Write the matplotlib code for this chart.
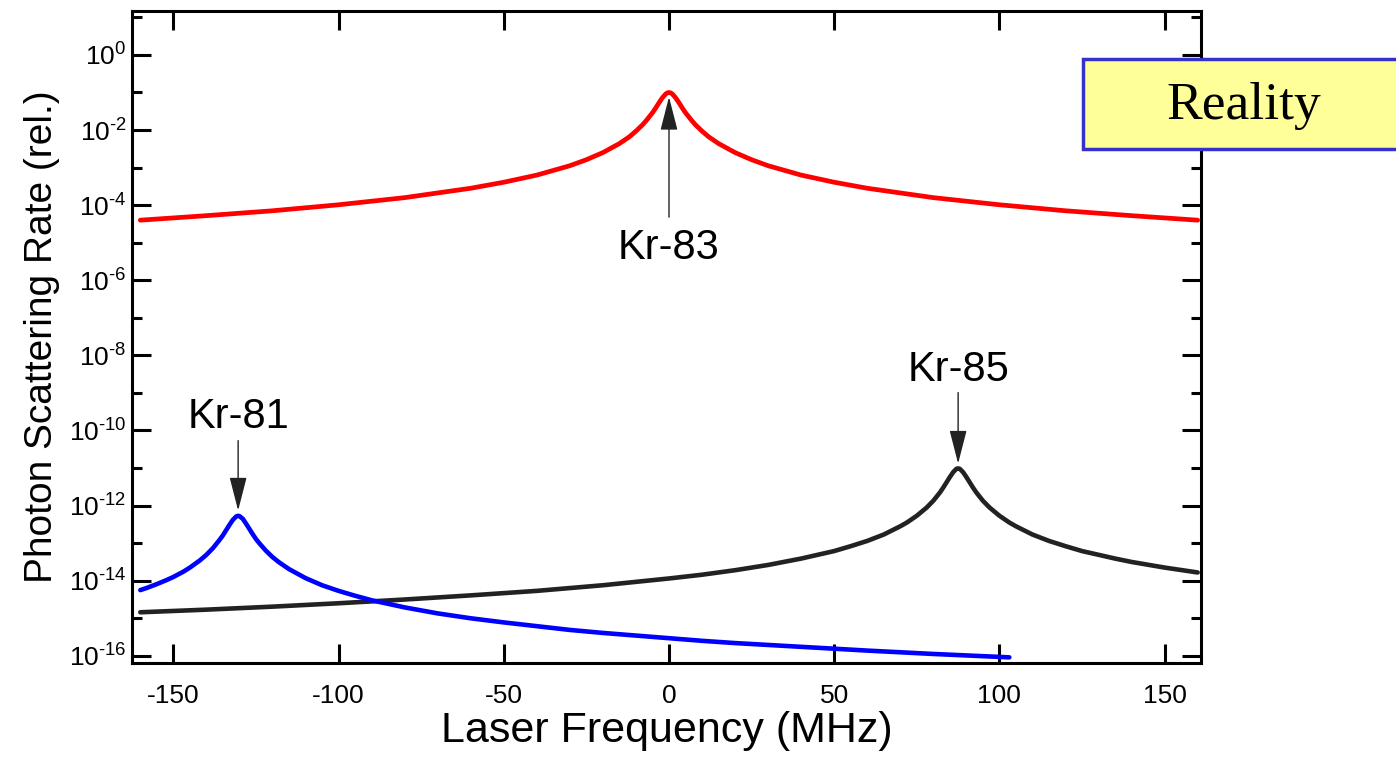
import matplotlib
matplotlib.use("Agg")
import matplotlib.pyplot as plt
import numpy as np
from matplotlib.ticker import FixedLocator, FuncFormatter, NullFormatter
from matplotlib.patches import Rectangle

plt.rcParams['font.family'] = ['Liberation Sans', 'DejaVu Sans']
plt.rcParams['mathtext.default'] = 'regular'
plt.rcParams['mathtext.fontset'] = 'custom'
plt.rcParams['mathtext.rm'] = 'Liberation Sans'
plt.rcParams['mathtext.it'] = 'Liberation Sans'

# ---- data (log10 of rate) ----
kr83_x = [-160, -140, -120, -100, -80, -60, -50, -40, -30, -25, -20, -15, -12, -10, -8, -7, -6, -5,
          -4, -3, -2, -1.5, -1, -0.5, 0,
          0.5, 1, 1.5, 2, 3, 4, 5, 6, 7, 8, 10, 12, 15, 20, 25, 30, 40, 50, 60, 80, 100, 120, 140, 160]
kr83_log = [-4.40, -4.28, -4.15, -3.99, -3.80, -3.55, -3.39, -3.20, -2.95, -2.79, -2.60, -2.36, -2.18,
            -2.03, -1.86, -1.76, -1.65, -1.54, -1.41, -1.27, -1.14, -1.09, -1.04, -1.01, -1.00,
            -1.01, -1.04, -1.09, -1.14, -1.27, -1.41, -1.54, -1.65, -1.76, -1.86, -2.03, -2.18, -2.36,
            -2.60, -2.79, -2.95, -3.20, -3.39, -3.55, -3.80, -3.99, -4.15, -4.28, -4.40]

kr81_x = [-160, -158, -155, -152, -150, -147, -145, -142, -140, -138, -137, -136, -135, -134, -133,
          -132, -131, -130.4, -130, -129, -128, -127, -126, -125, -124, -122, -120, -118, -115, -110,
          -105, -100, -95, -90, -80, -70, -60, -50, -40, -30, -20, -10, 0, 10, 20, 40, 60, 80, 103]
kr81_log = [-14.25, -14.19, -14.09, -13.98, -13.90, -13.76, -13.65, -13.46, -13.31, -13.13, -13.02,
            -12.91, -12.79, -12.65, -12.51, -12.38, -12.29, -12.27, -12.28, -12.35, -12.48, -12.62,
            -12.76, -12.89, -13.00, -13.20, -13.37, -13.51, -13.69, -13.93, -14.12, -14.27, -14.40,
            -14.52, -14.71, -14.87, -15.00, -15.11, -15.21, -15.31, -15.39, -15.46, -15.53, -15.60,
            -15.66, -15.76, -15.86, -15.95, -16.04]

kr85_x = [-160, -140, -120, -100, -80, -60, -40, -20, -10, 0, 10, 20, 30, 40, 45, 50, 55, 60, 65, 70,
          72, 75, 78, 80, 82, 83, 84, 85, 86, 87, 87.5, 88, 89, 90, 91, 92, 93, 95, 97, 100, 103, 105,
          110, 115, 120, 125, 130, 135, 140, 150, 160]
kr85_log = [-14.84, -14.77, -14.69, -14.60, -14.50, -14.39, -14.27, -14.12, -14.03, -13.94, -13.84,
            -13.72, -13.58, -13.41, -13.31, -13.21, -13.08, -12.94, -12.77, -12.55, -12.45, -12.27,
            -12.05, -11.87, -11.65, -11.52, -11.38, -11.24, -11.11, -11.02, -11.01, -11.02, -11.11,
            -11.24, -11.38, -11.52, -11.65, -11.87, -12.05, -12.27, -12.45, -12.55, -12.77, -12.94,
            -13.08, -13.21, -13.31, -13.41, -13.50, -13.65, -13.78]

x_ticks = [-150, -100, -50, 0, 50, 100, 150]
y_major_exp = [0, -2, -4, -6, -8, -10, -12, -14, -16]
y_minor_exp = [1, -1, -3, -5, -7, -9, -11, -13, -15]

labels = ["Kr-83", "Kr-81", "Kr-85"]
label_pos = [(0, -5.15), (-130.4, -9.63), (87.5, -8.40)]
arrow_tail = [(0, -4.32), (-130.4, -10.27), (87.5, -8.99)]
arrow_tip = [(0, -1.12), (-130.4, -12.13), (87.5, -10.88)]

# ---- figure ----
fig = plt.figure(figsize=(13.96, 7.57), dpi=100)
ax = fig.add_axes([0.0946, 0.1242, 0.7657, 0.8613])

ax.plot(kr83_x, 10 ** np.array(kr83_log), color='#ff0000', lw=3.4, solid_capstyle='round',
        solid_joinstyle='round', zorder=3)
ax.plot(kr85_x, 10 ** np.array(kr85_log), color='#222222', lw=3.3, solid_capstyle='round',
        solid_joinstyle='round', zorder=3)
ax.plot(kr81_x, 10 ** np.array(kr81_log), color='#0000ff', lw=3.3, solid_capstyle='round',
        solid_joinstyle='round', zorder=4)

ax.set_yscale('log')
ax.set_xlim(-162.5, 161)
ax.set_ylim(10 ** -16.19, 10 ** 1.17)


def ylab(v, p):
    e = int(round(np.log10(v)))
    s = str(e).replace('-', '\u2010')
    return '10$^{%s}$' % s


ax.xaxis.set_major_locator(FixedLocator(x_ticks))
ax.yaxis.set_major_locator(FixedLocator([10.0 ** e for e in y_major_exp]))
ax.yaxis.set_minor_locator(FixedLocator([10.0 ** e for e in y_minor_exp]))
ax.yaxis.set_minor_formatter(NullFormatter())
ax.yaxis.set_major_formatter(FuncFormatter(ylab))
ax.xaxis.set_major_formatter(FuncFormatter(lambda v, p: '%d' % v))

for s in ax.spines.values():
    s.set_linewidth(2.2)
ax.tick_params(which='major', direction='in', length=14, width=2.2, top=True, right=True,
               labelsize=19)
ax.tick_params(which='minor', direction='in', length=7, width=2.2, top=True, right=True)
ax.tick_params(axis='x', which='major', pad=15)
ax.tick_params(axis='y', which='major', pad=4)

ax.set_xlabel('Laser Frequency (MHz)', fontsize=31, labelpad=2)
ax.set_ylabel('Photon Scattering Rate (rel.)', fontsize=28, labelpad=6)

for lab, (lx, ly), (tx, ty), (hx, hy) in zip(labels, label_pos, arrow_tail, arrow_tip):
    ax.text(lx, 10 ** ly, lab, fontsize=30, ha='center', va='center')
    ax.annotate('', xy=(hx, 10 ** hy), xytext=(tx, 10 ** ty),
                arrowprops=dict(arrowstyle='-|>,head_length=1.05,head_width=0.27',
                                lw=1.0, color='#222222', shrinkA=0, shrinkB=0,
                                mutation_scale=20), zorder=5)

# "Reality" box
fig.patches.append(Rectangle((1083 / 1396, 1 - 149 / 757), 0.3, 90 / 757,
                             transform=fig.transFigure, facecolor='#ffff99',
                             edgecolor='#3333cc', lw=2.5, clip_on=False, zorder=10))
fig.text(1244 / 1396, 1 - 106 / 757, 'Reality', fontsize=38.5, family='Liberation Serif',
         ha='center', va='center', zorder=11)

fig.savefig('out.png', dpi=100)
